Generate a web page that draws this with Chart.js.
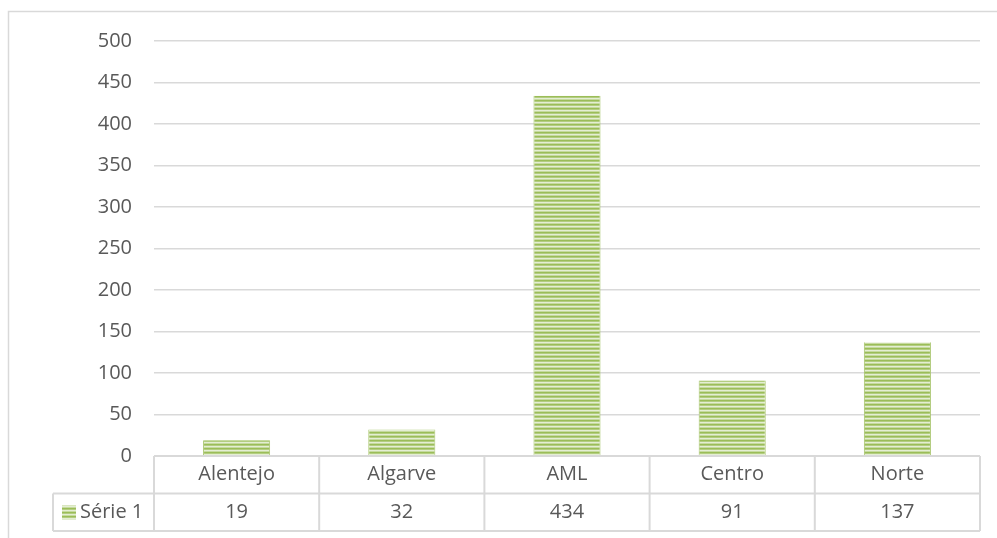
<!DOCTYPE html>
<html>
<head>
<meta charset="utf-8">
<script src="https://cdn.jsdelivr.net/npm/chart.js@4.4.1/dist/chart.umd.min.js"></script>
<style>
  html, body { margin: 0; padding: 0; background: #fff; }
  #wrap { width: 997px; height: 538px; position: relative; }
</style>
</head>
<body>
<div id="wrap"><canvas id="chart"></canvas></div>
<script>
// ===== 数据 =====
const CATEGORIES = ['Alentejo', 'Algarve', 'AML', 'Centro', 'Norte'];
const SERIES_NAME = 'Série 1';
const VALUES = [19, 32, 434, 91, 137];
const Y_MAX = 500;
const Y_STEP = 50;

// ===== 样式 =====
const COLOR_TEXT = '#595959';
const COLOR_LINE = '#d9d9d9';
const FONT = '"Open Sans", "DejaVu Sans", sans-serif';
const FONT_SIZE = 20;
const ROW_H = 37.5;

// 横条纹填充（深绿 / 浅绿交替，边缘稍柔和）
function stripePattern() {
  const c = document.createElement('canvas');
  c.width = 4; c.height = 4;
  const g = c.getContext('2d');
  const rows = ['#9bbd58', '#b3cd80', '#e4eed3', '#c6da9f'];
  rows.forEach((col, i) => {
    g.fillStyle = col;
    g.fillRect(0, i, 4, 1);
  });
  return g.createPattern(c, 'repeat');
}
const BAR_FILL = stripePattern();

// 外框 + 底部数据表
const tablePlugin = {
  id: 'dataTable',
  beforeDraw(chart) {
    const ctx = chart.ctx;
    ctx.save();
    ctx.strokeStyle = COLOR_LINE;
    ctx.lineWidth = 1.5;
    ctx.strokeRect(8.5, 11.5, 1000, 540);
    ctx.restore();
  },
  afterDraw(chart) {
    const ctx = chart.ctx;
    const area = chart.chartArea;
    const xs = chart.scales.x;
    const colW = area.width / CATEGORIES.length;
    const top = area.bottom;
    const mid = top + ROW_H;
    const bot = top + ROW_H * 2;
    const legendLeft = 53;

    ctx.save();
    ctx.strokeStyle = COLOR_LINE;
    ctx.lineWidth = 2;
    ctx.beginPath();
    // 表头上沿（横轴）
    ctx.moveTo(area.left, top); ctx.lineTo(area.right, top);
    ctx.moveTo(legendLeft, mid); ctx.lineTo(area.right, mid);
    ctx.moveTo(legendLeft, bot); ctx.lineTo(area.right, bot);
    ctx.moveTo(legendLeft, mid); ctx.lineTo(legendLeft, bot);
    for (let i = 0; i <= CATEGORIES.length; i++) {
      const x = area.left + i * colW;
      ctx.moveTo(x, top); ctx.lineTo(x, bot);
    }
    ctx.stroke();

    ctx.fillStyle = COLOR_TEXT;
    ctx.font = FONT_SIZE + 'px ' + FONT;
    ctx.textAlign = 'center';
    ctx.textBaseline = 'middle';
    CATEGORIES.forEach((c, i) => {
      const cx = xs.getPixelForValue(i);
      ctx.fillText(c, cx, top + ROW_H / 2);
      ctx.fillText(String(VALUES[i]), cx, mid + ROW_H / 2);
    });

    // 图例键
    ctx.fillStyle = BAR_FILL;
    ctx.fillRect(62, mid + 12, 14, 14);
    ctx.fillStyle = COLOR_TEXT;
    ctx.textAlign = 'left';
    ctx.fillText(SERIES_NAME, 80, mid + ROW_H / 2);
    ctx.restore();
  }
};

new Chart(document.getElementById('chart'), {
  type: 'bar',
  data: {
    labels: CATEGORIES,
    datasets: [{
      label: SERIES_NAME,
      data: VALUES,
      backgroundColor: BAR_FILL,
      borderColor: '#a9c66f',
      borderWidth: { left: 1, right: 1, top: 0, bottom: 0 },
      categoryPercentage: 1,
      barPercentage: 0.406
    }]
  },
  options: {
    responsive: true,
    maintainAspectRatio: false,
    animation: false,
    layout: { padding: { left: 0, top: 41, right: 17, bottom: 82 } },
    plugins: { legend: { display: false }, tooltip: { enabled: false } },
    scales: {
      x: { display: false, offset: true },
      y: {
        min: 0,
        max: Y_MAX,
        afterFit(scale) { scale.width = 154; },
        border: { display: false },
        grid: { color: COLOR_LINE, lineWidth: 1.5, drawTicks: false },
        ticks: {
          stepSize: Y_STEP,
          padding: 22,
          color: COLOR_TEXT,
          font: { family: FONT, size: FONT_SIZE }
        }
      }
    }
  },
  plugins: [tablePlugin]
});
</script>
</body>
</html>
